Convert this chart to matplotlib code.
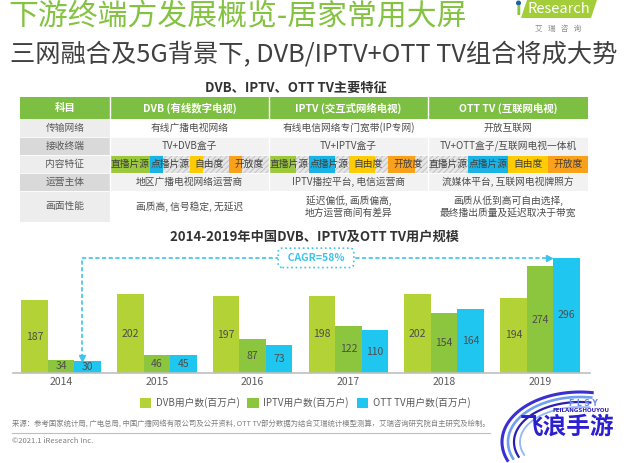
import numpy as np
import matplotlib
matplotlib.use('Agg')
import matplotlib.pyplot as plt
from matplotlib.patches import Rectangle, Polygon, Circle

plt.rcParams['font.family'] = ['Noto Sans CJK SC', 'DejaVu Sans']
plt.rcParams['hatch.linewidth'] = 0.6

# ---- data ----
years = ['2014', '2015', '2016', '2017', '2018', '2019']
dvb_users = [187, 202, 197, 198, 202, 194]
iptv_users = [34, 46, 87, 122, 154, 274]
ott_users = [30, 45, 73, 110, 164, 296]
series_names = ['DVB用户数(百万户)', 'IPTV用户数(百万户)', 'OTT TV用户数(百万户)']
cagr_label = 'CAGR=58%'

table_columns = ['科目', 'DVB (有线数字电视)', 'IPTV (交互式网络电视)', 'OTT TV (互联网电视)']
row_labels = ['传输网络', '接收终端', '内容特征', '运营主体', '画面性能']
transmission = ['有线广播电视网络', '有线电信网络专门宽带(IP专网)', '开放互联网']
receivers = ['TV+DVB盒子', 'TV+IPTV盒子', 'TV+OTT盒子/互联网电视一体机']
operators = ['地区广播电视网络运营商', 'IPTV播控平台, 电信运营商', '流媒体平台, 互联网电视牌照方']
picture = ['画质高, 信号稳定, 无延迟',
           '延迟偏低, 画质偏高,\n地方运营商间有差异',
           '画质从低到高可自由选择,\n最终播出质量及延迟取决于带宽']
content_tags = ['直播片源', '点播片源', '自由度', '开放度']
dvb_levels = [1.0, 0.33, 0.33, 0.33]
iptv_levels = [0.67, 0.67, 0.67, 0.67]
ott_levels = [0.0, 1.0, 1.0, 1.0]

# ---- colours ----
green_title = '#84C341'
header_green = '#7DBF42'
c_dvb, c_iptv, c_ott = '#B2D235', '#8CC63F', '#1FC7F0'
tag_colors = ['#9CC83C', '#1AB3E6', '#FFCB05', '#F9A11B']
cyan = '#3EC3EC'
txt = '#4D4D4D'

W, H = 640, 463
fig = plt.figure(figsize=(W / 100, H / 100), dpi=100)
bg = fig.add_axes([0, 0, 1, 1])
bg.set_xlim(0, W)
bg.set_ylim(H, 0)
bg.axis('off')

# titles
bg.text(8, 16, '下游终端方发展概览-居家常用大屏', fontsize=21.5, color=green_title,
        va='center', fontweight='light')
bg.text(10, 55, '三网融合及5G背景下, DVB/IPTV+OTT TV组合将成大势', fontsize=18.2,
        color='#404040', va='center', fontweight='light')

# iResearch logo
bg.add_patch(Polygon([(521, 18), (527, 0), (597, 0), (591, 18)], closed=True,
                     facecolor='#A3CD39', edgecolor='none'))
bg.text(559, 9, 'Research', fontsize=10.5, color='white', ha='center', va='center')
bg.text(518, 10, 'ı', fontsize=12, color='#8CC63F', ha='center', va='center',
        family='DejaVu Sans', fontweight='bold')
bg.add_patch(Circle((518.5, 3), 1.8, color='#1F5FA8'))
bg.text(558, 29, '艾   瑞   咨   询', fontsize=5.5, color='#8C8C8C', ha='center', va='center')

# ---- table ----
bg.text(296, 88, 'DVB、IPTV、OTT TV主要特征', fontsize=9.5, fontweight='bold',
        color='#333333', ha='center', va='center')
col_x = [20, 110, 269, 428, 588]
row_y = [97, 119, 137, 155, 173, 191, 222]

for i, name in enumerate(table_columns):
    bg.add_patch(Rectangle((col_x[i], row_y[0]), col_x[i + 1] - col_x[i], row_y[1] - row_y[0],
                           facecolor=header_green, edgecolor='none'))
    bg.text((col_x[i] + col_x[i + 1]) / 2, (row_y[0] + row_y[1]) / 2, name, fontsize=7.5,
            fontweight='bold', color='white', ha='center', va='center')

label_fill = ['#EDEDED', '#D9D9D9', '#EDEDED', '#D9D9D9', '#EDEDED']
row_fill = ['white', '#F2F2F2', None, '#F2F2F2', 'white']
row_values = [transmission, receivers, None, operators, picture]
levels = [dvb_levels, iptv_levels, ott_levels]

for r, label in enumerate(row_labels):
    y0, y1 = row_y[r + 1], row_y[r + 2]
    ym = (y0 + y1) / 2
    bg.add_patch(Rectangle((col_x[0], y0), col_x[1] - col_x[0], y1 - y0,
                           facecolor=label_fill[r], edgecolor='none'))
    bg.text((col_x[0] + col_x[1]) / 2, ym, label, fontsize=7, color='#595959',
            ha='center', va='center')
    for c in range(3):
        x0, x1 = col_x[c + 1], col_x[c + 2]
        if row_values[r] is not None:
            bg.add_patch(Rectangle((x0, y0), x1 - x0, y1 - y0, facecolor=row_fill[r],
                                   edgecolor='none'))
            bg.text((x0 + x1) / 2, ym, row_values[r][c], fontsize=7, color=txt,
                    ha='center', va='center', linespacing=1.3)
        else:
            bg.add_patch(Rectangle((x0, y0), x1 - x0, y1 - y0, facecolor='#E6E6E6',
                                   edgecolor='#BDBDBD', hatch='//////', lw=0))
            seg = (x1 - x0) / 4
            for k, tag in enumerate(content_tags):
                lev = levels[c][k]
                if lev > 0:
                    bg.add_patch(Rectangle((x0 + k * seg, y0), seg * lev, y1 - y0,
                                           facecolor=tag_colors[k], edgecolor='none'))
                bg.text(x0 + (k + 0.5) * seg, ym, tag, fontsize=7, color='#3F3F3F',
                        ha='center', va='center')

for x in col_x[1:4]:
    bg.plot([x, x], [row_y[0], row_y[-1]], color='white', lw=1)
for y in row_y[2:-1]:
    bg.plot([col_x[0], col_x[-1]], [y, y], color='white', lw=0.6)

# ---- bar chart ----
bg.text(315, 237, '2014-2019年中国DVB、IPTV及OTT TV用户规模', fontsize=9.5,
        fontweight='bold', color='#333333', ha='center', va='center')

px_per_unit = 0.389
group_px = 95.8
first_px = 61
ax_l, ax_r, base_y, top_y = 13, 590, 373, 240
ax = fig.add_axes([ax_l / W, 1 - base_y / H, (ax_r - ax_l) / W, (base_y - top_y) / H])
ax.set_ylim(0, (base_y - top_y) / px_per_unit)
ax.set_xlim(-(first_px - ax_l) / group_px, -(first_px - ax_l) / group_px + (ax_r - ax_l) / group_px)
ax.patch.set_alpha(0)

x = np.arange(len(years))
w = 0.277
bars = []
for off, vals, col in [(-w, dvb_users, c_dvb), (0, iptv_users, c_iptv), (w, ott_users, c_ott)]:
    b = ax.bar(x + off, vals, w, color=col, edgecolor='none')
    bars.append(b)
    for xi, v in zip(x, vals):
        ax.text(xi + off, v / 2, str(v), ha='center', va='center', fontsize=7.5, color=txt)

for s in ['top', 'right', 'left']:
    ax.spines[s].set_visible(False)
ax.spines['bottom'].set_color('#BFBFBF')
ax.spines['bottom'].set_linewidth(1.2)
ax.set_yticks([])
ax.set_xticks(x)
ax.set_xticklabels(years, fontsize=7.5, color='#595959')
ax.tick_params(axis='x', length=0, pad=3)

# CAGR arrow
xs = x[0] + w - 0.06
y_top = ott_users[-1]
y_low = ott_users[0] + 9
x_end = x[-1] + w / 2 - 0.04
dash = (0, (2.5, 1.5))
ax.plot([xs, xs], [y_low, y_top], color=cyan, lw=1.2, ls=dash, clip_on=False)
ax.plot([xs, x_end], [y_top, y_top], color=cyan, lw=1.2, ls=dash, clip_on=False)
ax.plot(xs, y_low, marker='v', ms=4, color=cyan, clip_on=False)
ax.plot(x_end, y_top, marker='>', ms=4, color=cyan, clip_on=False)
ax.text((316 - first_px) / group_px, y_top, '  ' + cagr_label + '  ', ha='center', va='center',
        fontsize=7.5, fontweight='bold', color=cyan,
        bbox=dict(boxstyle='round,pad=0.45,rounding_size=0.4', fc='white', ec=cyan,
                  ls=':', lw=1.2))

fig.legend([b[0] for b in bars], series_names, loc='center',
           bbox_to_anchor=(305 / W, 1 - 403 / H), ncol=3, frameon=False, fontsize=7,
           handlelength=1.15, handleheight=1.15, handletextpad=0.5, columnspacing=0.8,
           labelcolor='#595959')

# ---- footer ----
bg.text(12, 425, '来源：参考国家统计局, 广电总局, 中国广播网络有限公司及公开资料, OTT TV部分数据为结合艾瑞统计模型测算，艾瑞咨询研究院自主研究及绘制。',
        fontsize=5.3, color='#7F7F7F', va='center')
bg.plot([12, 490], [433, 433], color='#BFBFBF', lw=0.8)
bg.text(12, 441, '©2021.1 iResearch Inc.', fontsize=5.5, color='#7F7F7F', va='center')

# ---- watermark ----
for k, col in enumerate(['#3A2FD0', '#6FA0F0', '#2B1FB0', '#8FB8F5']):
    t = np.linspace(np.pi * 0.45, np.pi * 1.12, 60)
    rx, ry = 78 - k * 6, 50 - k * 5
    bg.plot(580 + rx * np.cos(t), 442 - ry * np.sin(t), color=col, lw=2.2 - k * 0.3)
bg.text(567, 427, '飞浪手游', fontsize=17, fontweight='bold', color='#2B1FD1',
        ha='center', va='center')
bg.text(583, 403, 'F L S Y', fontsize=5.5, fontweight='bold', color='#6A8BE8',
        ha='center', va='center', family='DejaVu Sans')
bg.text(581, 410, 'FEILANGSHOUYOU', fontsize=4, fontweight='bold', color='#3020C0',
        ha='center', va='center', family='DejaVu Sans')

fig.savefig('out.png', dpi=100)
